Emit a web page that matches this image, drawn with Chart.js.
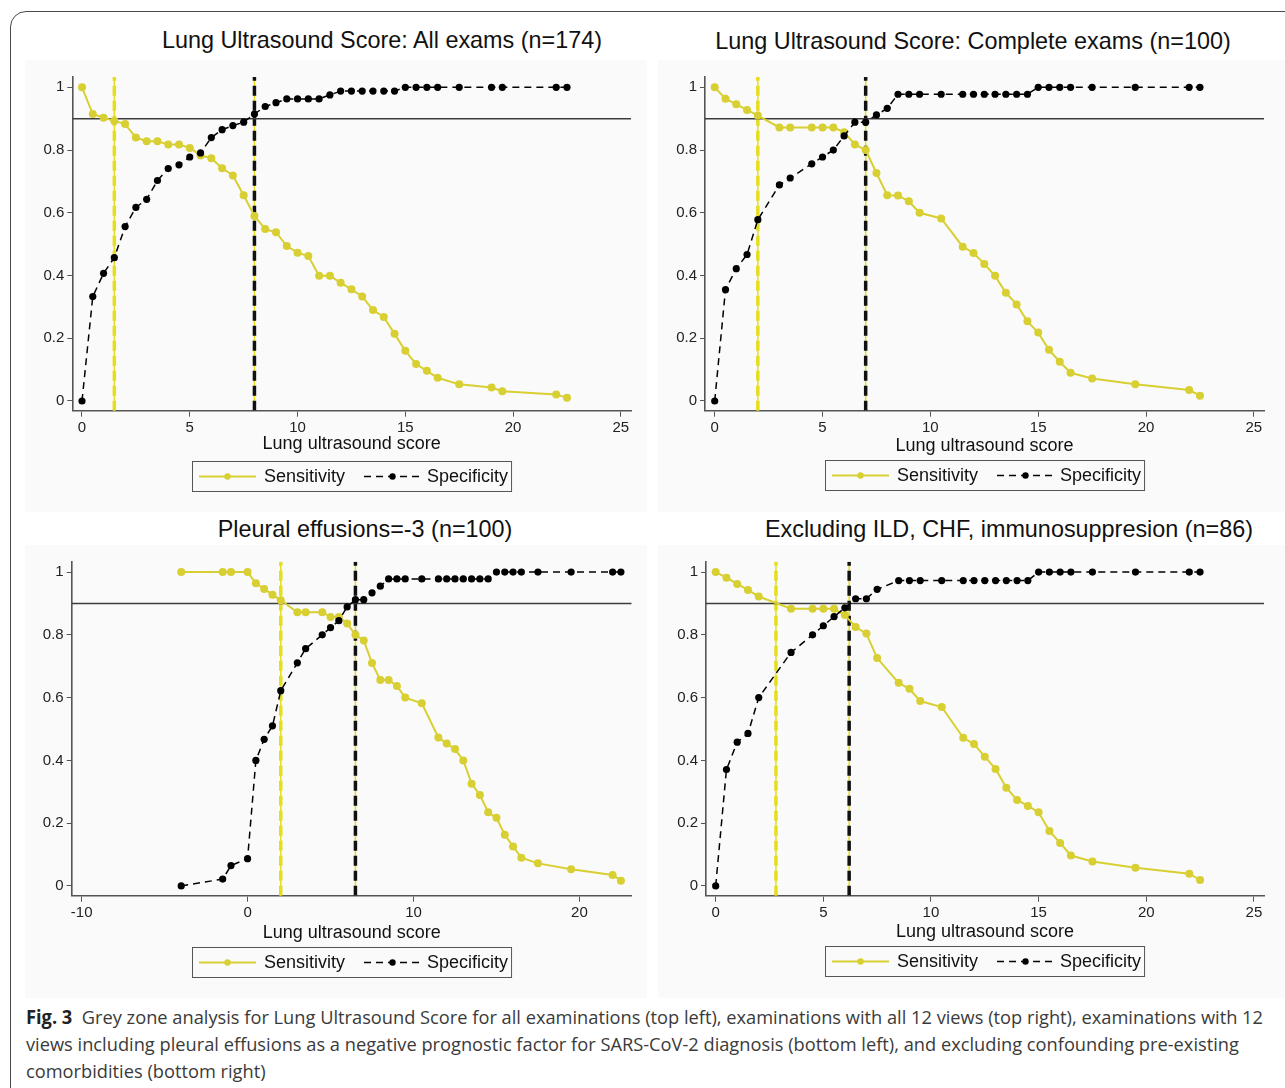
<!DOCTYPE html>
<html>
<head>
<meta charset="utf-8">
<title>Fig. 3 - Grey zone analysis</title>
<script src="https://cdn.jsdelivr.net/npm/chart.js@4.4.1/dist/chart.umd.min.js"></script>
<style>
  html, body { margin: 0; padding: 0; background: #fff; }
  body { width: 1285px; height: 1088px; position: relative; overflow: hidden;
         font-family: "Liberation Sans", Arial, sans-serif; color: #111; }
  .marco { position: absolute; left: 10px; top: 11px; width: 1300px; height: 1100px;
           border: 1.5px solid #4a4a4a; border-radius: 16px; }
  .panel { position: absolute; background: #fafafa; }
  .panel canvas { display: block; }
  .titulo { position: absolute; font-size: 23.4px; white-space: nowrap; color: #111;
            transform: translate(-50%, -50%); }
  .pie { position: absolute; left: 26px; font-family: "Open Sans", sans-serif; font-size: 19px;
         line-height: 27px; color: #3a3a3a; white-space: nowrap; transform-origin: 0 50%; }
  .pie b { color: #222; }
</style>
</head>
<body>
<div class="marco"></div>

<div class="pie" id="pie1" style="top:1004px"><b>Fig. 3</b>&nbsp; Grey zone analysis for Lung Ultrasound Score for all examinations (top left), examinations with all 12 views (top right), examinations with 12</div>
<div class="pie" id="pie2" style="top:1031px">views including pleural effusions as a negative prognostic factor for SARS-CoV-2 diagnosis (bottom left), and excluding confounding pre-existing</div>
<div class="pie" id="pie3" style="top:1058px">comorbidities (bottom right)</div>

<script>
// ---- datos ----
// arriba izquierda: todos los examenes (n=174)
var todosScore = [0, 0.5, 1, 1.5, 2, 2.5, 3, 3.5, 4, 4.5, 5, 5.5, 6, 6.5, 7, 7.5, 8, 8.5, 9, 9.5,
                  10, 10.5, 11, 11.5, 12, 12.5, 13, 13.5, 14, 14.5, 15, 15.5, 16, 16.5, 17.5, 19, 19.5, 22, 22.5];
var todosSens = [1.0, 0.915, 0.903, 0.893, 0.883, 0.840, 0.828, 0.828, 0.818, 0.818, 0.807, 0.783, 0.774, 0.742, 0.719, 0.656, 0.590, 0.548, 0.538, 0.494,
                 0.473, 0.462, 0.399, 0.399, 0.377, 0.356, 0.333, 0.290, 0.268, 0.214, 0.160, 0.118, 0.096, 0.074, 0.053, 0.043, 0.031, 0.021, 0.010];
var todosSpec = [0, 0.333, 0.407, 0.457, 0.556, 0.617, 0.643, 0.703, 0.741, 0.753, 0.778, 0.791, 0.840, 0.865, 0.878, 0.889, 0.915, 0.939, 0.951, 0.963,
                 0.963, 0.963, 0.963, 0.976, 0.988, 0.988, 0.988, 0.988, 0.988, 0.988, 1, 1, 1, 1, 1, 1, 1, 1, 1];
var todosCortes = [1.5, 8];

// arriba derecha: examenes completos (n=100)
var completosScore = [0, 0.5, 1, 1.5, 2, 3, 3.5, 4.5, 5, 5.5, 6, 6.5, 7, 7.5, 8, 8.5, 9, 9.5, 10.5,
                      11.5, 12, 12.5, 13, 13.5, 14, 14.5, 15, 15.5, 16, 16.5, 17.5, 19.5, 22, 22.5];
var completosSens = [1.0, 0.964, 0.946, 0.928, 0.910, 0.872, 0.872, 0.872, 0.872, 0.872, 0.857, 0.818, 0.800, 0.727, 0.656, 0.655, 0.637, 0.600, 0.582,
                     0.492, 0.472, 0.437, 0.399, 0.345, 0.308, 0.254, 0.218, 0.163, 0.125, 0.090, 0.072, 0.053, 0.035, 0.017];
var completosSpec = [0, 0.355, 0.422, 0.467, 0.578, 0.689, 0.711, 0.756, 0.778, 0.800, 0.845, 0.889, 0.889, 0.912, 0.933, 0.978, 0.978, 0.978, 0.978,
                     0.978, 0.978, 0.978, 0.978, 0.978, 0.978, 0.978, 1, 1, 1, 1, 1, 1, 1, 1];
var completosCortes = [2, 7];

// abajo izquierda: derrame pleural = -3 (n=100)
var derrameScore = [-4, -1.5, -1, 0, 0.5, 1, 1.5, 2, 3, 3.5, 4.5, 5, 5.5, 6, 6.5, 7, 7.5, 8, 8.5, 9, 9.5, 10.5,
                    11.5, 12, 12.5, 13, 13.5, 14, 14.5, 15, 15.5, 16, 16.5, 17.5, 19.5, 22, 22.5];
var derrameSens = [1, 1, 1, 1, 0.964, 0.946, 0.928, 0.910, 0.872, 0.872, 0.872, 0.857, 0.857, 0.836, 0.800, 0.782, 0.710, 0.656, 0.656, 0.637, 0.600, 0.582,
                   0.473, 0.454, 0.436, 0.400, 0.326, 0.290, 0.235, 0.217, 0.163, 0.126, 0.090, 0.072, 0.053, 0.035, 0.017];
var derrameSpec = [0, 0.022, 0.065, 0.087, 0.400, 0.467, 0.510, 0.622, 0.711, 0.756, 0.800, 0.823, 0.845, 0.889, 0.912, 0.912, 0.934, 0.955, 0.978, 0.978, 0.978, 0.978,
                   0.978, 0.978, 0.978, 0.978, 0.978, 0.978, 0.978, 1, 1, 1, 1, 1, 1, 1, 1];
var derrameCortes = [2, 6.5];

// abajo derecha: sin ILD, CHF, inmunosupresion (n=86)
var excluyeScore = [0, 0.5, 1, 1.5, 2, 3.5, 4.5, 5, 5.5, 6, 6.5, 7, 7.5, 8.5, 9, 9.5, 10.5,
                    11.5, 12, 12.5, 13, 13.5, 14, 14.5, 15, 15.5, 16, 16.5, 17.5, 19.5, 22, 22.5];
var excluyeSens = [1.0, 0.982, 0.962, 0.943, 0.922, 0.883, 0.883, 0.883, 0.883, 0.863, 0.825, 0.804, 0.726, 0.647, 0.628, 0.589, 0.570,
                   0.472, 0.452, 0.412, 0.373, 0.313, 0.274, 0.255, 0.235, 0.175, 0.137, 0.097, 0.078, 0.058, 0.039, 0.019];
var excluyeSpec = [0, 0.371, 0.458, 0.486, 0.600, 0.744, 0.800, 0.829, 0.858, 0.886, 0.915, 0.915, 0.945, 0.973, 0.973, 0.973, 0.973,
                   0.973, 0.973, 0.973, 0.973, 0.973, 0.973, 0.973, 1, 1, 1, 1, 1, 1, 1, 1];
var excluyeCortes = [2.8, 6.2];

var nivelReferencia = 0.9;
var yTicks = [0, 0.2, 0.4, 0.6, 0.8, 1];
var xTicksScore = [0, 5, 10, 15, 20, 25];
var xTicksDerrame = [-10, 0, 10, 20];
var etiquetas = ['Sensitivity', 'Specificity'];
var ejeX = 'Lung ultrasound score';

var AMARILLO = '#d8cf33';
var AMARILLO_CORTE = '#e6de1c';
var FUENTE = '"Liberation Sans", Arial, sans-serif';
var Y_MIN = -0.031, Y_MAX = 1.033;

// caja = donde va el canvas, area = chartArea deseada (coords de pagina)
var paneles = [
    { titulo: 'Lung Ultrasound Score: All exams (n=174)', tituloX: 382, tituloY: 40,
      caja: [25, 60, 622, 452], area: [72.3, 77, 631, 410.7], ejeTituloY: 444, leyendaY: 461,
      score: todosScore, sens: todosSens, spec: todosSpec, cortes: todosCortes,
      xMin: -0.45, xMax: 25.47, xTicks: xTicksScore },
    { titulo: 'Lung Ultrasound Score: Complete exams (n=100)', tituloX: 973, tituloY: 41,
      caja: [658, 60, 627, 452], area: [705, 77, 1264, 410.7], ejeTituloY: 446, leyendaY: 460,
      score: completosScore, sens: completosSens, spec: completosSpec, cortes: completosCortes,
      xMin: -0.45, xMax: 25.47, xTicks: xTicksScore },
    { titulo: 'Pleural effusions=-3 (n=100)', tituloX: 365, tituloY: 529,
      caja: [25, 545, 622, 453], area: [71.7, 561.7, 631.7, 895.7], ejeTituloY: 933, leyendaY: 947,
      score: derrameScore, sens: derrameSens, spec: derrameSpec, cortes: derrameCortes,
      xMin: -10.6, xMax: 23.15, xTicks: xTicksDerrame },
    { titulo: 'Excluding ILD, CHF, immunosuppresion (n=86)', tituloX: 1009, tituloY: 529,
      caja: [658, 545, 627, 453], area: [706, 561.7, 1264, 895.7], ejeTituloY: 932, leyendaY: 946,
      score: excluyeScore, sens: excluyeSens, spec: excluyeSpec, cortes: excluyeCortes,
      xMin: -0.45, xMax: 25.47, xTicks: xTicksScore }
];

// leyenda con marco, como la del original (linea + punto)
var leyendaCaja = {
    id: 'leyendaCaja',
    afterDraw: function (chart, args, opts) {
        var ctx = chart.ctx;
        var a = chart.chartArea;
        var ds = chart.data.datasets;
        var muestra = 57;
        ctx.save();
        ctx.font = '18px ' + FUENTE;
        var w1 = ctx.measureText(ds[0].label).width;
        var w2 = ctx.measureText(ds[1].label).width;
        var ancho = 7 + muestra + 8 + w1 + 19 + muestra + 6 + w2 + 3;
        var alto = 30;
        var izq = Math.round((a.left + a.right) / 2 - ancho / 2);
        var arriba = Math.round(a.bottom + opts.offset);
        ctx.strokeStyle = '#555';
        ctx.lineWidth = 1;
        ctx.strokeRect(izq + 0.5, arriba + 0.5, ancho, alto);

        var cy = arriba + alto / 2 + 0.5;
        var x = izq + 7;
        [0, 1].forEach(function (i) {
            var d = ds[i];
            ctx.strokeStyle = d.borderColor;
            ctx.lineWidth = d.borderWidth;
            ctx.setLineDash(d.borderDash || []);
            ctx.beginPath();
            ctx.moveTo(x, cy);
            ctx.lineTo(x + muestra, cy);
            ctx.stroke();
            ctx.setLineDash([]);
            ctx.fillStyle = d.borderColor;
            ctx.beginPath();
            ctx.arc(x + muestra / 2, cy, 3.2, 0, Math.PI * 2);
            ctx.fill();
            x += muestra + (i === 0 ? 8 : 6);
            ctx.fillStyle = '#111';
            ctx.textBaseline = 'middle';
            ctx.fillText(d.label, x, cy + 1);
            x += (i === 0 ? w1 : w2) + 19;
        });
        ctx.restore();
    }
};

function lineaVertical(valor, color, ancho, guion, orden) {
    return {
        data: [{ x: valor, y: Y_MIN }, { x: valor, y: Y_MAX }],
        borderColor: color, borderWidth: ancho, borderDash: guion,
        pointRadius: 0, fill: false, order: orden
    };
}

function graficoPanel(p) {
    var div = document.createElement('div');
    div.className = 'panel';
    div.style.left = p.caja[0] + 'px';
    div.style.top = p.caja[1] + 'px';
    div.style.width = p.caja[2] + 'px';
    div.style.height = p.caja[3] + 'px';
    var canvas = document.createElement('canvas');
    canvas.width = p.caja[2];
    canvas.height = p.caja[3];
    div.appendChild(canvas);
    document.body.appendChild(div);

    var t = document.createElement('div');
    t.className = 'titulo';
    t.textContent = p.titulo;
    t.style.left = p.tituloX + 'px';
    t.style.top = p.tituloY + 'px';
    document.body.appendChild(t);

    // medidas internas del canvas
    var anchoY = p.area[0] - p.caja[0];
    var padTop = p.area[1] - p.caja[1];
    var padRight = p.caja[0] + p.caja[2] - p.area[2];
    var bajoEje = p.ejeTituloY - p.caja[1] + 10.8;
    var altoX = bajoEje - (p.area[3] - p.caja[1]);
    var padBottom = p.caja[3] - bajoEje;

    var sensPts = p.score.map(function (s, i) { return { x: s, y: p.sens[i] }; });
    var specPts = p.score.map(function (s, i) { return { x: s, y: p.spec[i] }; });

    new Chart(canvas.getContext('2d'), {
        type: 'line',
        data: {
            datasets: [
                { label: etiquetas[0], data: sensPts, borderColor: AMARILLO, backgroundColor: AMARILLO,
                  borderWidth: 2, pointRadius: 4, pointBorderWidth: 0, order: 2 },
                { label: etiquetas[1], data: specPts, borderColor: '#000', backgroundColor: '#000',
                  borderWidth: 1.5, borderDash: [7, 5], pointRadius: 3.6, pointBorderWidth: 0, order: 1 },
                { data: [{ x: p.xMin, y: nivelReferencia }, { x: p.xMax, y: nivelReferencia }],
                  borderColor: '#3c3c3c', borderWidth: 1.6, pointRadius: 0, order: 5 },
                lineaVertical(p.cortes[0], AMARILLO_CORTE, 1.5, [], 9),
                lineaVertical(p.cortes[0], AMARILLO_CORTE, 3.5, [10, 5], 8),
                lineaVertical(p.cortes[1], AMARILLO_CORTE, 1.5, [], 9),
                lineaVertical(p.cortes[1], '#111', 3.5, [10, 5], 8)
            ]
        },
        options: {
            responsive: false,
            animation: false,
            events: [],
            layout: { padding: { left: 0, top: padTop, right: padRight, bottom: padBottom } },
            plugins: {
                legend: { display: false },
                tooltip: { enabled: false },
                leyendaCaja: { offset: p.leyendaY - p.area[3] }
            },
            scales: {
                x: {
                    type: 'linear', min: p.xMin, max: p.xMax,
                    afterBuildTicks: function (s) { s.ticks = p.xTicks.map(function (v) { return { value: v }; }); },
                    afterFit: function (s) { s.height = altoX; },
                    ticks: { font: { family: FUENTE, size: 15 }, color: '#222', padding: 2,
                             maxRotation: 0, autoSkip: false,
                             callback: function (v) { return String(v); } },
                    grid: { drawOnChartArea: false, drawTicks: true, tickLength: 6, color: '#555' },
                    border: { display: true, color: '#555', width: 1.6 },
                    title: { display: true, text: ejeX, color: '#111',
                             font: { family: FUENTE, size: 18 }, padding: 0 }
                },
                y: {
                    type: 'linear', min: Y_MIN, max: Y_MAX,
                    afterBuildTicks: function (s) { s.ticks = yTicks.map(function (v) { return { value: v }; }); },
                    afterFit: function (s) { s.width = anchoY; },
                    ticks: { font: { family: FUENTE, size: 15 }, color: '#222', padding: 3,
                             callback: function (v) { return String(+v.toFixed(2)); } },
                    grid: { drawOnChartArea: false, drawTicks: true, tickLength: 5, color: '#555' },
                    border: { display: true, color: '#555', width: 1.6 }
                }
            }
        },
        plugins: [leyendaCaja]
    });
}

paneles.forEach(graficoPanel);

// pie de figura: tipografia estrecha, se ajusta al ancho del original
var pie1 = document.getElementById('pie1');
var k = 1237 / pie1.getBoundingClientRect().width;
['pie1', 'pie2', 'pie3'].forEach(function (id) {
    document.getElementById(id).style.transform = 'scaleX(' + k + ')';
});
</script>
</body>
</html>
